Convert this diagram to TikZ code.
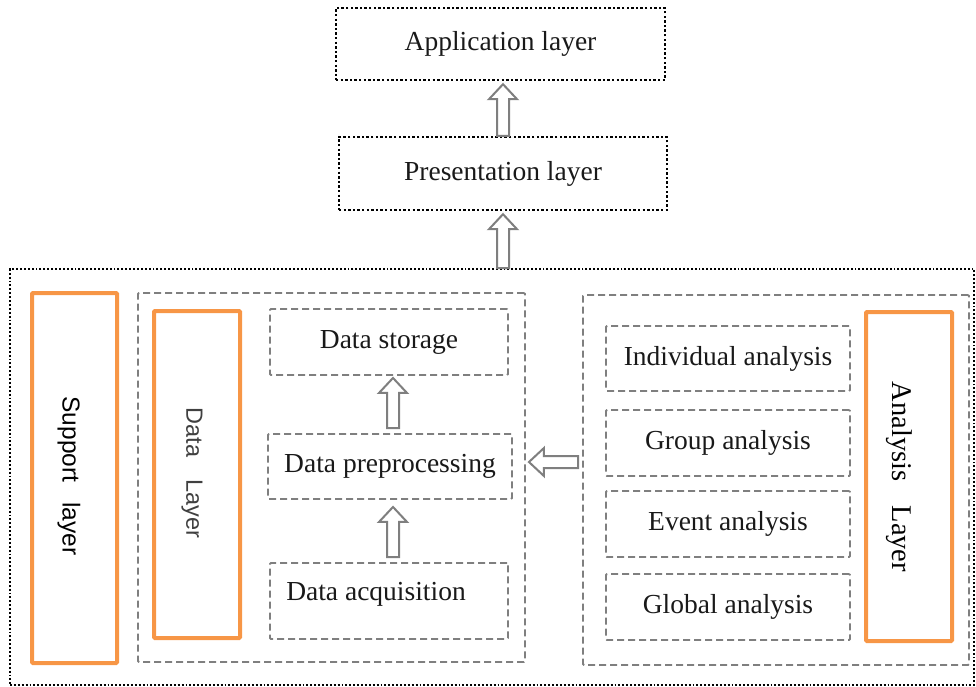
\documentclass[tikz,border=0pt]{standalone}
\usepackage{fontspec}
\setmainfont{Liberation Serif}
\newfontfamily\labelsans{Liberation Sans}
\usetikzlibrary{calc}
\definecolor{layerorange}{HTML}{F79646}
\definecolor{boxgray}{HTML}{7F7F7F}
\tikzset{
  dotbox/.style={draw=black, line width=2.4pt, dash pattern=on 2.4pt off 2.2pt, rectangle, inner sep=0pt},
  outerbox/.style={draw=black, line width=1.9pt, dash pattern=on 1.9pt off 2pt, rectangle, inner sep=0pt},
  dashbox/.style={draw=boxgray, line width=1.9pt, dash pattern=on 7pt off 4pt, rectangle, inner sep=0pt, rounded corners=1pt},
  layerbox/.style={draw=layerorange, line width=4pt, rectangle, inner sep=0pt, rounded corners=1pt},
  boxtext/.style={font=\fontsize{27.5}{32}\selectfont, text=black!90},
  hollow/.style={draw=boxgray, line width=2pt, fill=white, line join=miter},
}
% hollow block arrow from tail #1 to tip #2
\newcommand\hollowarrow[2]{%
  \coordinate (hb) at ($(#2)!15pt!(#1)$);
  \draw[hollow] ($(#1)!6pt!90:(#2)$) -- ($(hb)!6pt!-90:(#1)$) -- ($(hb)!14pt!-90:(#1)$)
    -- (#2) -- ($(hb)!14pt!90:(#1)$) -- ($(hb)!6pt!90:(#1)$) -- ($(#1)!6pt!-90:(#2)$) -- cycle;
}
\begin{document}
\begin{tikzpicture}[x=1pt, y=-1pt]
\useasboundingbox (0,0) rectangle (976,686);

% top layers
\node[dotbox, boxtext, minimum width=329pt, minimum height=72pt] (app) at (500.5,44) {Application layer};
\node[dotbox, boxtext, minimum width=328pt, minimum height=73pt] (pres) at (503,173.5) {Presentation layer};

% enclosing frame
\node[outerbox, minimum width=964pt, minimum height=416pt] (outer) at (492,477) {};

% support layer
\node[layerbox, minimum width=85pt, minimum height=370pt] (support) at (74.5,478) {};
\node[rotate=-90, font=\labelsans\fontsize{24.5}{28}\selectfont] (supporttext) at (69,476) {Support\hspace{20pt}layer};

% data layer
\node[dashbox, minimum width=387pt, minimum height=369pt] (dataout) at (331.5,477.5) {};
\node[layerbox, minimum width=86pt, minimum height=327pt] (datalayer) at (197,474.5) {};
\node[rotate=-90, font=\labelsans\fontsize{23.5}{27}\selectfont, text=black!75] (datatext) at (192,473) {Data\hspace{22pt}Layer};
\node[dashbox, boxtext, minimum width=238pt, minimum height=66pt] (storage) at (389,342) {Data storage};
\node[dashbox, boxtext, minimum width=244pt, minimum height=65pt] (prep) at (390,466.5) {Data preprocessing};
\node[dashbox, minimum width=238pt, minimum height=76pt] (acq) at (389,601) {};
\node[boxtext] (acqtext) at (376,594) {Data acquisition};

% analysis layer
\node[dashbox, minimum width=386pt, minimum height=370pt] (anaout) at (776,480) {};
\node[layerbox, minimum width=86pt, minimum height=329pt] (analayer) at (909,476.5) {};
\node[rotate=-90, font=\fontsize{28.5}{32}\selectfont] (anatext) at (899,477) {Analysis\hspace{24pt}Layer};
\node[dashbox, boxtext, minimum width=244pt, minimum height=65pt] (indiv) at (728,358.5) {Individual analysis};
\node[dashbox, boxtext, minimum width=244pt, minimum height=66pt] (group) at (728,443) {Group analysis};
\node[dashbox, boxtext, minimum width=244pt, minimum height=66pt] (event) at (728,524) {Event analysis};
\node[dashbox, boxtext, minimum width=244pt, minimum height=66pt] (global) at (728,607) {Global analysis};

% flow arrows
\coordinate (a1t) at (pres.north);
\coordinate (a1h) at ($(app.south -| pres.north)+(0,3)$);
\hollowarrow{a1t}{a1h}
\coordinate (a2t) at (outer.north -| pres.south);
\coordinate (a2h) at ($(pres.south)+(0,3)$);
\hollowarrow{a2t}{a2h}
\coordinate (a3t) at ($(prep.north)+(3,-5)$);
\coordinate (a3h) at ($(storage.south)+(4,2)$);
\hollowarrow{a3t}{a3h}
\coordinate (a4t) at ($(acq.north)+(4,-5)$);
\coordinate (a4h) at ($(prep.south)+(3,7)$);
\hollowarrow{a4t}{a4h}
\coordinate (a5t) at ($(anaout.west |- prep.center)+(-4,-4.5)$);
\coordinate (a5h) at ($(dataout.east |- prep.center)+(3,-4.5)$);
\hollowarrow{a5t}{a5h}
\end{tikzpicture}
\end{document}
